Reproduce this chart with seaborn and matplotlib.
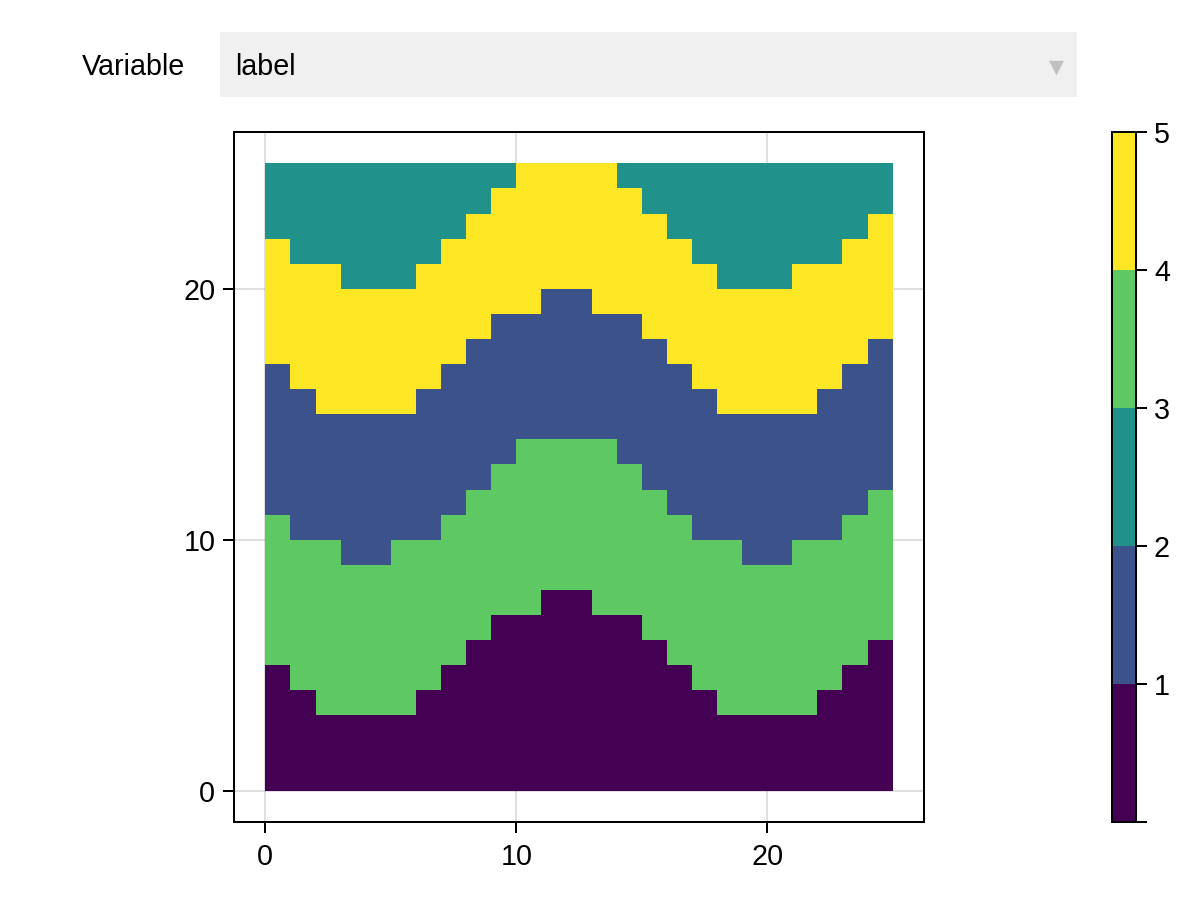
import numpy as np
import seaborn as sns
import matplotlib.pyplot as plt
from matplotlib.patches import Rectangle

# top edge of each band, one value per column
purple_top = [5, 4, 3, 3, 3, 3, 4, 5, 6, 7, 7, 8, 8, 7, 7, 6, 5, 4, 3, 3, 3, 3, 4, 5, 6]
green_top = [11, 10, 10, 9, 9, 10, 10, 11, 12, 13, 14, 14, 14, 14, 13, 12, 11, 10, 10, 9, 9, 10, 10, 11, 12]
blue_top = [17, 16, 15, 15, 15, 15, 16, 17, 18, 19, 19, 20, 20, 19, 19, 18, 17, 16, 15, 15, 15, 15, 16, 17, 18]
yellow_top = [22, 21, 21, 20, 20, 20, 21, 22, 23, 24, 25, 25, 25, 25, 24, 23, 22, 21, 20, 20, 20, 21, 21, 22, 23]

# colour bin of each band, bottom to top
band_bins = [0, 3, 1, 4, 2]
axis_ticks = [0, 10, 20]
cbar_ticks = [0, 1, 2, 3, 4, 5]
cbar_labels = ['', '1', '2', '3', '4', '5']

W, H = 1200, 900
TICK_LEN = 11 * 72 / 100
LINE_W = 2 * 72 / 100
FONT_SIZE = 20.7

sns.set_theme(style='ticks')
plt.rcParams['font.family'] = ['Liberation Sans', 'DejaVu Sans']


def px_axes(left, top, right, bottom):
    return [left / W, 1 - bottom / H, (right - left) / W, (bottom - top) / H]


rows = np.arange(25)[:, None, None]
tops = np.array([purple_top, green_top, blue_top, yellow_top])
labels = np.take(band_bins, (rows >= tops).sum(axis=1))

fig = plt.figure(figsize=(W / 100, H / 100), dpi=100)
ax = fig.add_axes(px_axes(234, 132, 924, 822))
cax = fig.add_axes(px_axes(1112, 132, 1136, 822))

sns.heatmap(labels, ax=ax, cbar_ax=cax, cmap=plt.get_cmap('viridis', 5),
            vmin=0, vmax=5, square=False, xticklabels=False, yticklabels=False)

ax.set_xlim(-1.25, 26.25)
ax.set_ylim(-1.25, 26.25)
ax.set_xticks(axis_ticks, labels=[str(t) for t in axis_ticks])
ax.set_yticks(axis_ticks, labels=[str(t) for t in axis_ticks])
ax.tick_params(length=TICK_LEN, width=LINE_W, labelsize=FONT_SIZE, color='black',
               labelcolor='black', bottom=True, left=True, labelrotation=0)
ax.tick_params(axis='x', pad=7.5)
ax.tick_params(axis='y', pad=5.5)
ax.set_axisbelow(True)
ax.grid(True, color='black', alpha=0.12, linewidth=LINE_W)
for spine in ax.spines.values():
    spine.set_visible(True)
    spine.set_color('black')
    spine.set_linewidth(LINE_W)

cbar = ax.collections[0].colorbar
cbar.set_ticks(cbar_ticks, labels=cbar_labels)
cbar.ax.minorticks_off()
cbar.ax.tick_params(length=TICK_LEN, width=LINE_W, labelsize=FONT_SIZE, pad=5, color='black',
                    labelcolor='black', right=True)
cbar.outline.set_visible(True)
cbar.outline.set_edgecolor('black')
cbar.outline.set_linewidth(LINE_W)

# dropdown above the heatmap
fig.add_artist(Rectangle((220 / W, 1 - 97 / H), 857 / W, 65 / H, transform=fig.transFigure,
                         facecolor='#f0f0f0', edgecolor='none'))
fig.text(82 / W, 1 - 64 / H, 'Variable', fontsize=FONT_SIZE, color='black', va='center_baseline')
fig.text(235 / W, 1 - 64 / H, 'label', fontsize=FONT_SIZE, color='black', va='center_baseline')
fig.text(1056 / W, 1 - 67 / H, '\u25bc', fontsize=14, color='#c0c0c0', ha='center', va='center',
         family='DejaVu Sans')

fig.savefig('out.png', dpi=100)
